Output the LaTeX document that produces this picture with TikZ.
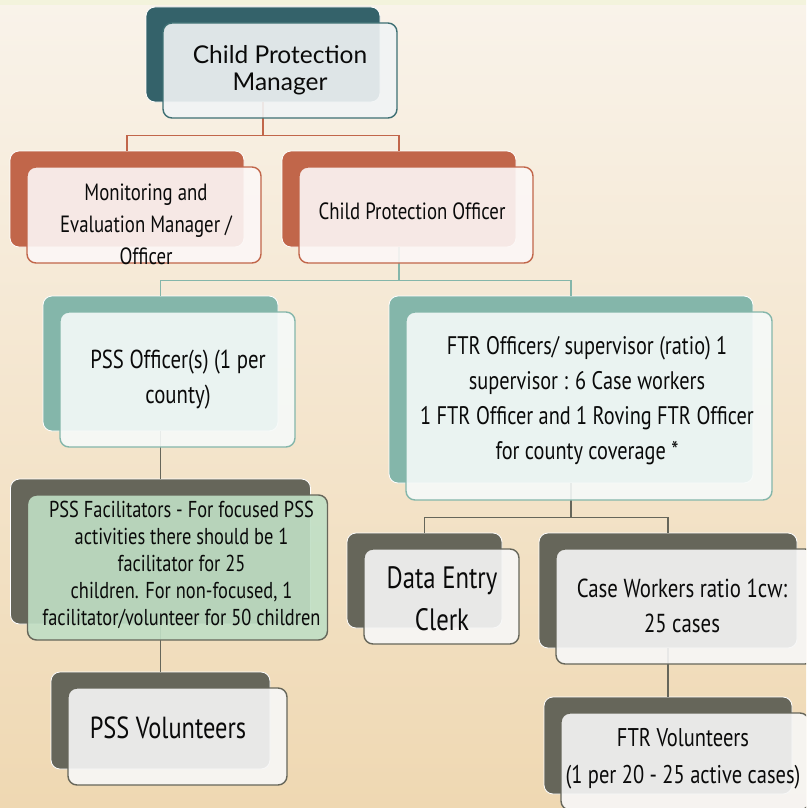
\documentclass[tikz,border=0pt]{standalone}
\usepackage{fontspec}
\newfontfamily\cond[FakeStretch=0.8]{PT Sans}
\newfontfamily\gill{Lato}
\definecolor{bgtop}{HTML}{F9F3EA}
\definecolor{bgbot}{HTML}{EFD8B2}
\definecolor{strip}{HTML}{F3F3DC}
\definecolor{dteal}{HTML}{34626A}
\definecolor{dtealB}{HTML}{3E6F73}
\definecolor{orng}{HTML}{C1664A}
\definecolor{lteal}{HTML}{84B6AA}
\definecolor{olive}{HTML}{66665A}
\definecolor{grn}{HTML}{C0DFC5}
\definecolor{ink}{HTML}{0A0A0A}
\begin{document}
\begin{tikzpicture}[x=1pt,y=-1pt,
  back/.style={draw=white, line width=0.8pt, rounded corners=9pt, inner sep=0pt},
  front/.style={line width=1.4pt, rounded corners=9pt, inner sep=0pt, fill opacity=0.9},
  conn/.style={line width=1.4pt},
  txt/.style={align=center, text=ink, inner sep=0pt},
]
\useasboundingbox (0,0) rectangle (806,808);
\clip (0,0) rectangle (806,808);
\shade[top color=bgtop, bottom color=bgbot] (0,0) rectangle (806,808);
\fill[strip] (0,0) rectangle (806,5);

% back boxes
\node[back, fill=dteal, minimum width=234, minimum height=95] (cpmB) at (263,54.5) {};
\node[back, fill=orng, minimum width=234, minimum height=96] (meB) at (127,199) {};
\node[back, fill=orng, minimum width=234, minimum height=96] (cpoB) at (399,199) {};
\node[back, fill=lteal, minimum width=235, minimum height=135] (psoB) at (160.5,363.5) {};
\node[back, fill=lteal, minimum width=364, minimum height=187] (ftrB) at (571,389.5) {};
\node[back, fill=olive, minimum width=300, minimum height=145] (pfB) at (160.5,551.5) {};
\node[back, fill=olive, minimum width=219, minimum height=97] (pvB) at (160.5,720.5) {};
\node[back, fill=olive, minimum width=155, minimum height=95] (decB) at (424.5,580.5) {};
\node[back, fill=olive, minimum width=258, minimum height=115] (cwB) at (668,590.5) {};
\node[back, fill=olive, minimum width=248, minimum height=97] (fvB) at (668,745.5) {};

% connectors
\draw[conn, orng] (cpmB.south) -- ++(0,33) -| (meB.north);
\draw[conn, orng] (cpmB.south) -- ++(0,33) -| (cpoB.north);
\draw[conn, lteal] (cpoB.south) -- ++(0,33) -| (psoB.north);
\draw[conn, lteal] (cpoB.south) -- ++(0,33) -| (ftrB.north);
\draw[conn, olive] (psoB.south) -- (pfB.north);
\draw[conn, olive] (pfB.south) -- (pvB.north);
\draw[conn, olive] (ftrB.south) -- ++(0,34) -| (decB.north);
\draw[conn, olive] (ftrB.south) -- ++(0,34) -| (cwB.north);
\draw[conn, olive] (cwB.south) -- (fvB.north);

% front boxes
\node[front, draw=dtealB, fill=white!93!dteal, minimum width=234, minimum height=95] (cpm) at (280,70.5) {};
\node[front, draw=orng, fill=white!95!orng, minimum width=234, minimum height=96] (me) at (144,215) {};
\node[front, draw=orng, fill=white!95!orng, minimum width=234, minimum height=96] (cpo) at (416,215) {};
\node[front, draw=lteal, fill=white!93!lteal, minimum width=235, minimum height=135] (pso) at (177.5,379.5) {};
\node[front, draw=lteal, fill=white!93!lteal, minimum width=366, minimum height=188] (ftr) at (589,406) {};
\node[front, draw=olive, fill=grn, minimum width=300, minimum height=145] (pf) at (177.5,567.5) {};
\node[front, draw=olive, fill=white!95!olive, minimum width=219, minimum height=97] (pv) at (177.5,736.5) {};
\node[front, draw=olive, fill=white!95!olive, minimum width=155, minimum height=95] (dec) at (441.5,596.5) {};
\node[front, draw=olive, fill=white!95!olive, minimum width=258, minimum height=115] (cw) at (685,606.5) {};
\node[front, draw=olive, fill=white!95!olive, minimum width=248, minimum height=97] (fv) at (685,761.5) {};

% texts
\node[txt, font=\gill\fontsize{24.5}{27}\selectfont] (cpmT) at (280,70.5) {Child Protection\\Manager};
\node[txt, font=\cond\fontsize{23.5}{32}\selectfont] (meT) at (146,224) {Monitoring and\\Evaluation Manager /\\Officer};
\node[txt, font=\cond\fontsize{23.5}{32}\selectfont] (cpoT) at (412,211) {Child Protection Officer};
\node[txt, font=\cond\fontsize{26}{35}\selectfont] (psoT) at (178,379.5) {PSS Officer(s) (1 per\\county)};
\node[txt, font=\cond\fontsize{25.4}{35}\selectfont] (ftrT) at (587,400.5) {FTR Officers/ supervisor (ratio) 1\\supervisor : 6 Case workers\\1 FTR Officer and 1 Roving FTR Officer\\for county coverage *};
\node[txt, font=\cond\fontsize{23}{27}\selectfont] (pfT) at (181.5,564.5) {PSS Facilitators - For focused PSS\\activities there should be 1\\facilitator for 25\\children. For non-focused, 1\\facilitator/volunteer for 50 children};
\node[txt, font=\cond\fontsize{30.5}{36}\selectfont] (pvT) at (168,728) {PSS Volunteers};
\node[txt, font=\cond\fontsize{30.9}{42}\selectfont] (decT) at (442,599) {Data Entry\\Clerk};
\node[txt, font=\cond\fontsize{26}{35}\selectfont] (cwT) at (682,605.5) {Case Workers ratio 1cw:\\25 cases};
\node[txt, font=\cond\fontsize{25.6}{37}\selectfont] (fvT) at (683,758.5) {FTR Volunteers\\(1 per 20 - 25 active cases)};
\end{tikzpicture}
\end{document}
